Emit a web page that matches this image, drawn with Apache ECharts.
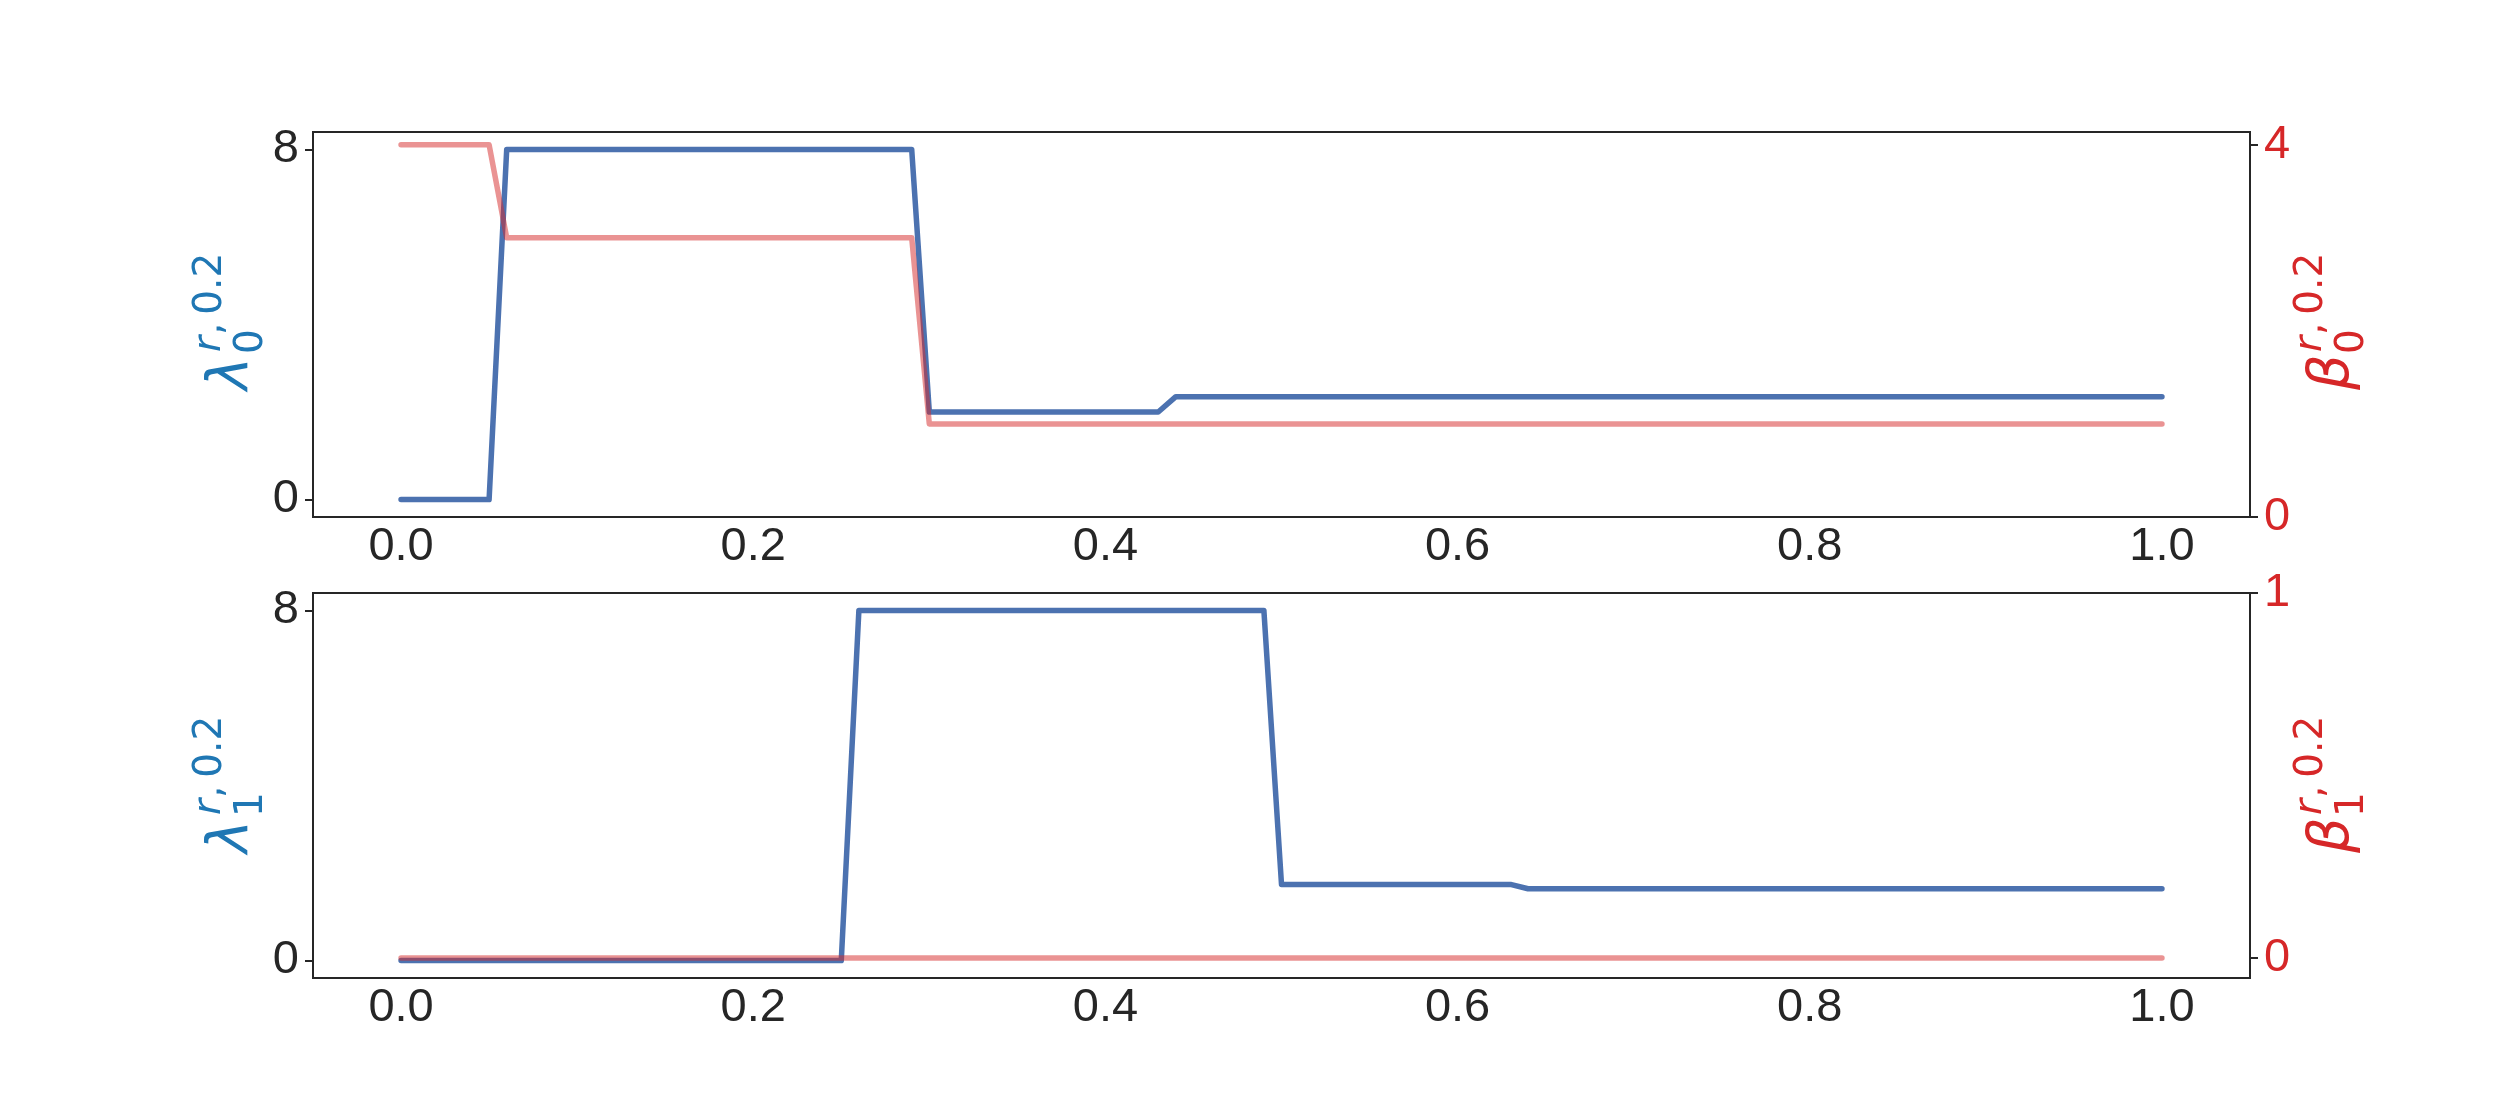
<!DOCTYPE html>
<html><head><meta charset="utf-8">
<script src="https://cdn.jsdelivr.net/npm/echarts@6/dist/echarts.min.js"></script>
<style>html,body{margin:0;padding:0;background:#fff}#c{width:2500px;height:1100px}</style>
</head><body><div id="c"></div>
<script>
// ---- data ----
const xTickValues = [0, 0.2, 0.4, 0.6, 0.8, 1.0];
const leftTickValues = [0, 8];
const rightTopTickValues = [0, 4];
const rightBottomTickValues = [0, 1];

const lambda0X = [0, 0.05, 0.06, 0.29, 0.30, 0.43, 0.44, 1.0];
const lambda0Y = [0, 0, 8, 8, 2.0, 2.0, 2.35, 2.35];
const beta0X = [0, 0.05, 0.06, 0.29, 0.30, 1.0];
const beta0Y = [4, 4, 3, 3, 1, 1];

const lambda1X = [0, 0.25, 0.26, 0.49, 0.50, 0.63, 0.64, 1.0];
const lambda1Y = [0, 0, 8, 8, 1.74, 1.74, 1.64, 1.64];
const beta1X = [0, 1.0];
const beta1Y = [0, 0];

const pairs = (xs, ys) => xs.map((x, i) => [x, ys[i]]);

// ---- style ----
const DARK = '#262626';
const BLUE_LINE = '#4c72b0';
const RED_LINE = '#d62728';
const BLUE_TXT = '#1f77b4';
const RED_TXT = '#d62728';
const TICK_FONT = 'Liberation Sans';

const chart = echarts.init(document.getElementById('c'), null, {renderer: 'canvas'});

function xAxis(gi) {
  return {
    type: 'value', gridIndex: gi, min: -0.05, max: 1.05,
    axisLine: {show: false, onZero: false}, splitLine: {show: false},
    axisTick: {show: false},
    axisLabel: {customValues: xTickValues, formatter: v => v.toFixed(1), color: DARK,
      fontSize: 47, fontFamily: TICK_FONT, margin: 7}
  };
}
function yAxis(gi, pos, min, max, ticks, color) {
  return {
    type: 'value', gridIndex: gi, position: pos, min: min, max: max,
    axisLine: {show: false, onZero: false}, splitLine: {show: false},
    axisTick: {show: true, customValues: ticks, length: 8, lineStyle: {color: DARK, width: 2}},
    axisLabel: {customValues: ticks, color: color, fontSize: 47, fontFamily: TICK_FONT, margin: 14}
  };
}
function line(xi, yi, data, color, opacity, z) {
  return {
    type: 'line', xAxisIndex: xi, yAxisIndex: yi, data: data, showSymbol: false, symbol: 'none',
    animation: false, z: z,
    lineStyle: {color: color, width: 5.5, opacity: opacity, cap: 'round', join: 'round'}
  };
}
function t(text, x, y, size, color, italic) {
  return {type: 'text', x: x, y: y, rotation: Math.PI / 2, z: 100,
    style: {text: text, fontSize: size, fontFamily: 'DejaVu Sans', fontStyle: italic ? 'italic' : 'normal',
      fill: color, align: 'left', verticalAlign: 'middle'}};
}
function label(greek, sub, xBase, yStart, color) {
  // xBase: screen x of the baseline; yStart: screen y where reading starts (bottom)
  return [
    t(greek, xBase - 16, yStart, 56, color, true),
    t(sub, xBase + 4, yStart - 36, 39, color, false),
    t('r', xBase - 38, yStart - 38, 39, color, true),
    t(',\u2009' + '0.2', xBase - 37, yStart - 55, 39, color, false)
  ];
}

const option = {
  backgroundColor: '#ffffff',
  animation: false,
  grid: [
    {left: 313, right: 250, top: 132, height: 385, show: true, borderColor: DARK, borderWidth: 2, backgroundColor: 'transparent'},
    {left: 313, right: 250, top: 593, height: 385, show: true, borderColor: DARK, borderWidth: 2, backgroundColor: 'transparent'}
  ],
  xAxis: [xAxis(0), xAxis(1)],
  yAxis: [
    yAxis(0, 'left', -0.4, 8.4, leftTickValues, DARK),
    yAxis(0, 'right', 0, 4.1375, rightTopTickValues, RED_TXT),
    yAxis(1, 'left', -0.4, 8.4, leftTickValues, DARK),
    yAxis(1, 'right', -0.055, 1, rightBottomTickValues, RED_TXT)
  ],
  series: [
    line(0, 0, pairs(lambda0X, lambda0Y), BLUE_LINE, 1, 2),
    line(0, 1, pairs(beta0X, beta0Y), RED_LINE, 0.5, 3),
    line(1, 2, pairs(lambda1X, lambda1Y), BLUE_LINE, 1, 2),
    line(1, 3, pairs(beta1X, beta1Y), RED_LINE, 0.5, 3)
  ],
  graphic: [].concat(
    label('λ', '0', 248, 390, BLUE_TXT),
    label('λ', '1', 248, 853, BLUE_TXT),
    label('β', '0', 2349, 390, RED_TXT),
    label('β', '1', 2349, 853, RED_TXT)
  )
};
chart.setOption(option);
</script>
</body></html>
